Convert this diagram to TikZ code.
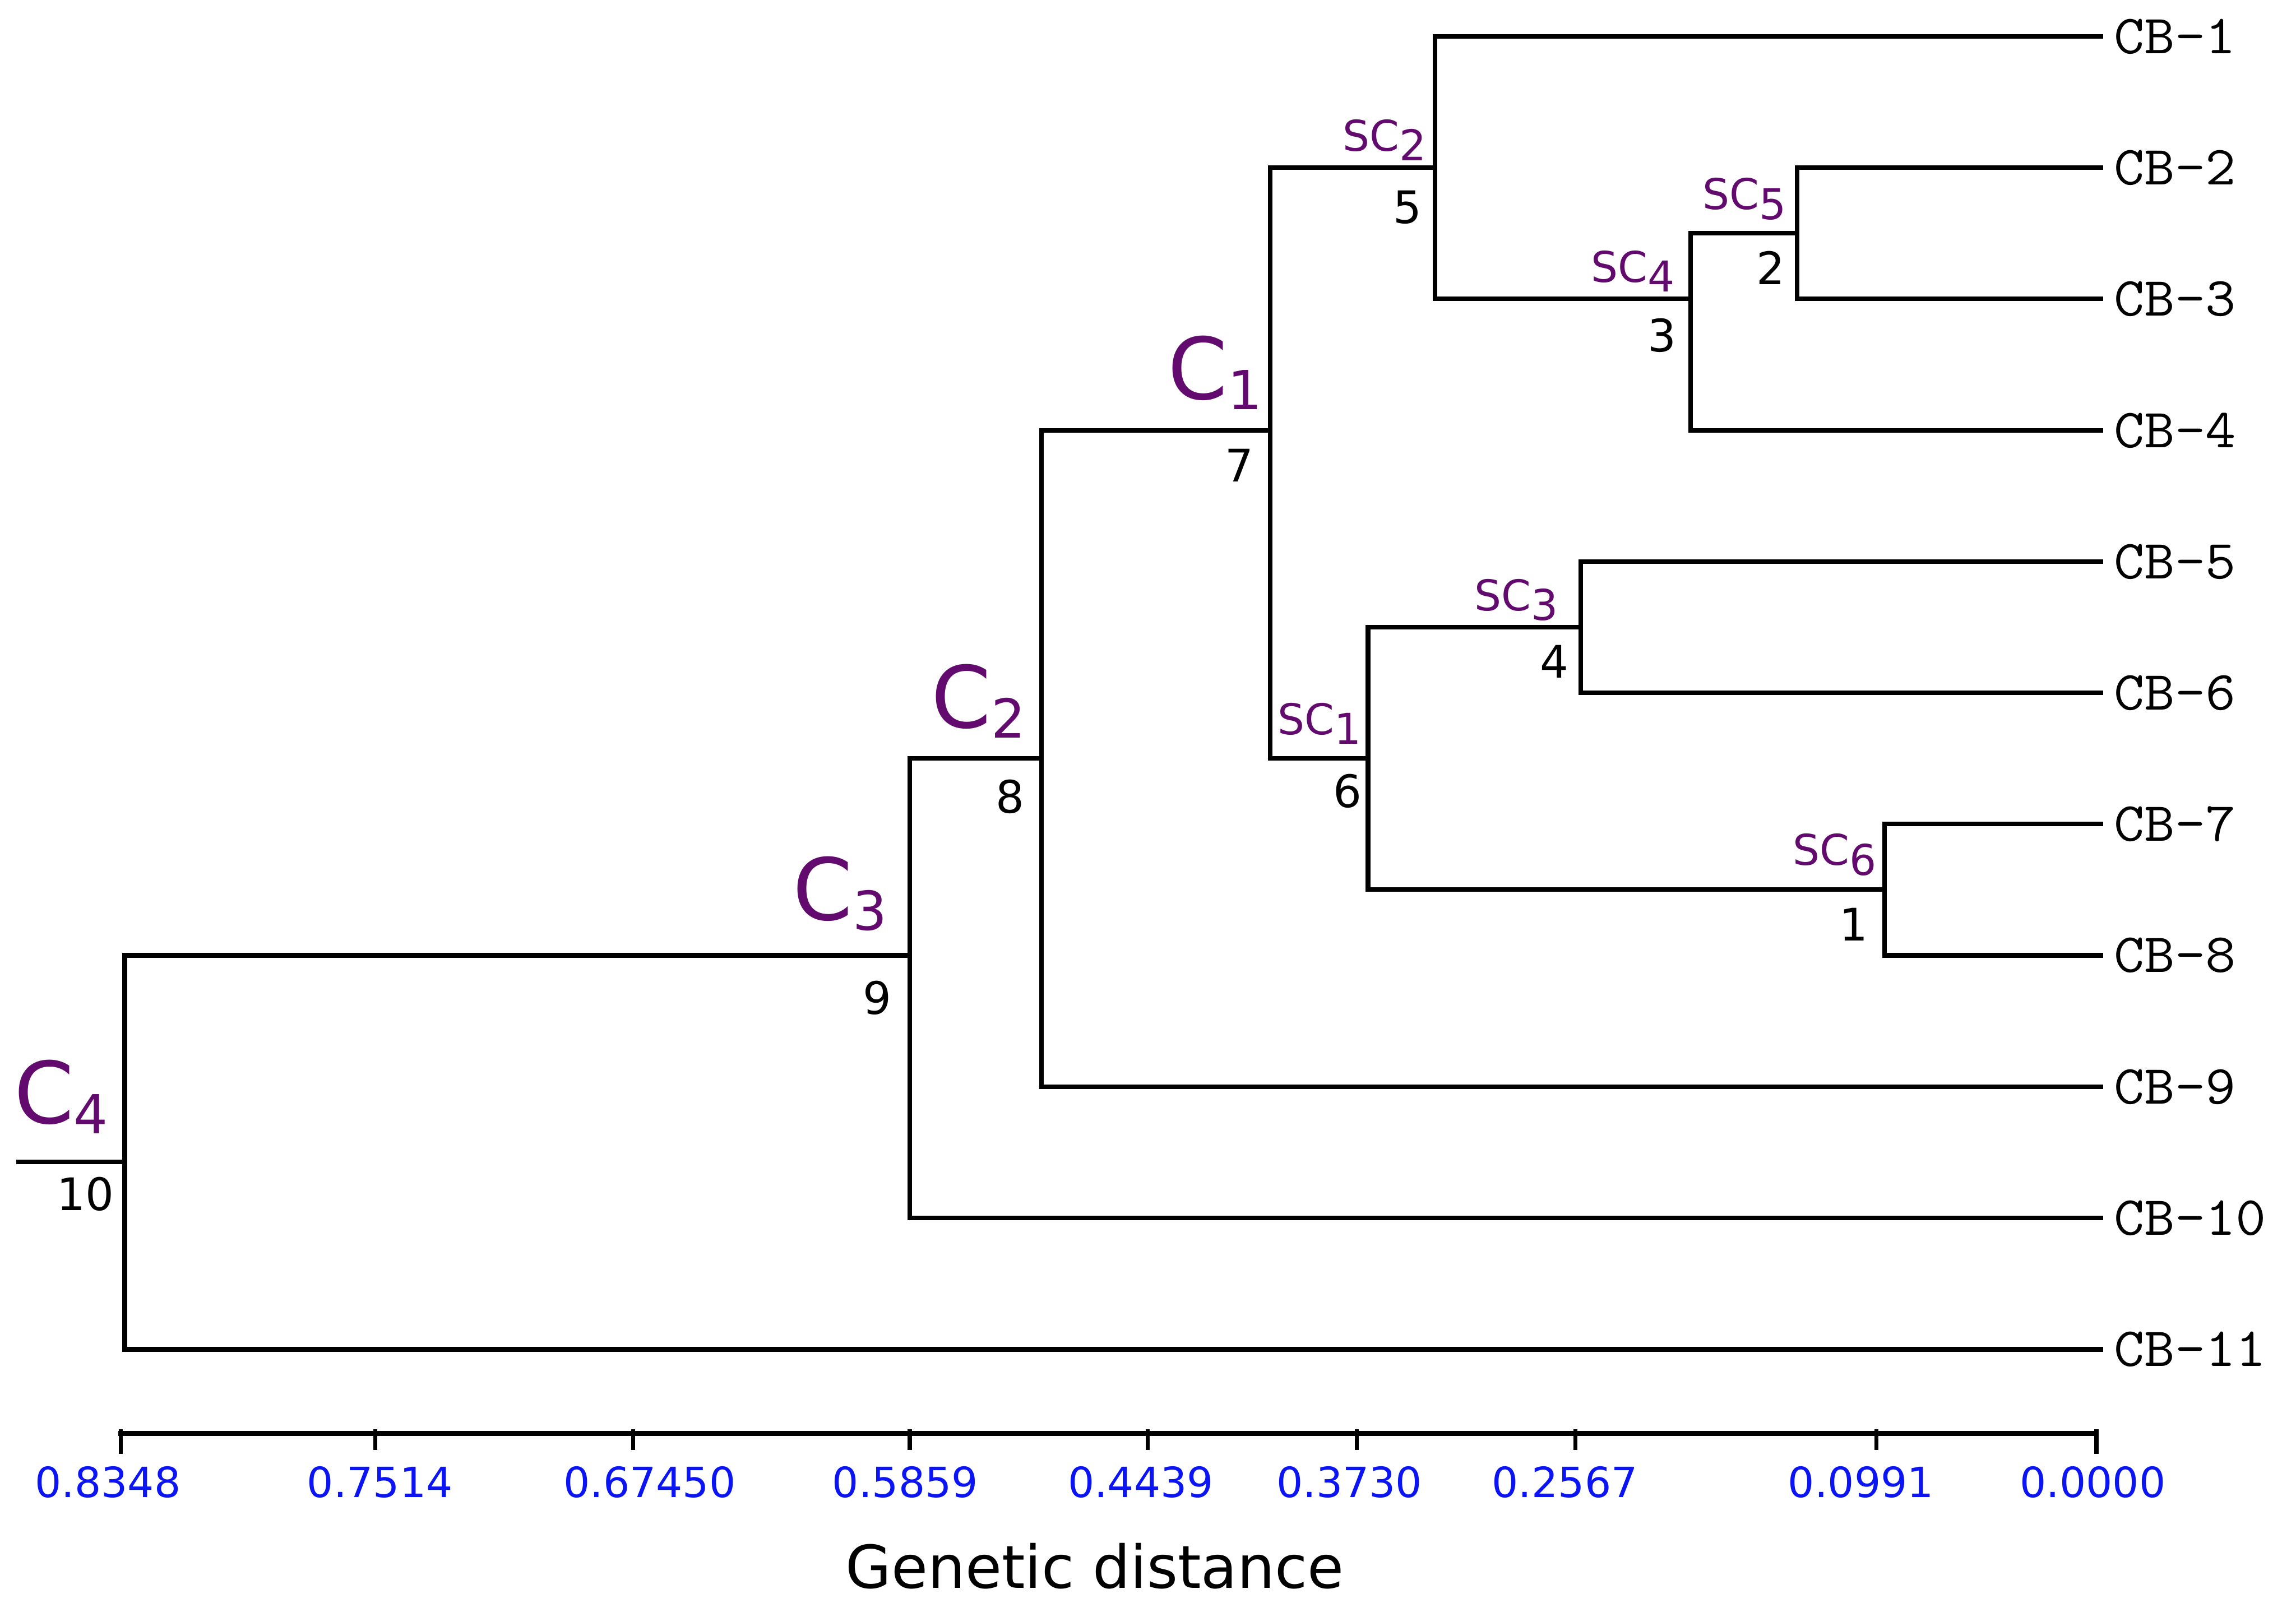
\documentclass[tikz,border=0pt]{standalone}
\usepackage{fontspec}
\setmainfont{DejaVu Sans}
\definecolor{clpurple}{RGB}{98,10,110}
\definecolor{axblue}{RGB}{10,20,245}
\newcommand{\clab}[1]{{\fontsize{53.5}{60}\selectfont C\raisebox{-0.22cm}{\fontsize{33.6}{36}\selectfont #1}}}
\newcommand{\sclab}[1]{{\fontsize{26.5}{30}\selectfont SC\raisebox{-0.22cm}{#1}}}
\newcommand{\cblab}[1]{\scalebox{1.07}[1]{\ttfamily\fontsize{34.5}{38}\selectfont CB-#1}}
\tikzset{
  branch/.style={line width=0.105cm, line join=miter},
  axisline/.style={line width=0.12cm},
  tickline/.style={line width=0.09cm},
  clusterlab/.style={anchor=base east, inner sep=0, text=clpurple},
  numlab/.style={anchor=base east, inner sep=0, font=\fontsize{28}{32}\selectfont},
  leaflab/.style={anchor=west, inner sep=0},
  axlab/.style={anchor=base, inner sep=0, text=axblue, font=\fontsize{26}{30}\selectfont}
}
\begin{document}
\begin{tikzpicture}
\useasboundingbox (0,0) rectangle (50.40,-35.19);
% leaf tips
\foreach \i/\y in {1/0.80,2/3.68,3/6.56,4/9.45,5/12.33,6/15.21,7/18.09,8/20.97,9/23.86,10/26.74,11/29.62}{
  \coordinate (L\i) at (46.17,-\y);
  \node[leaflab] (T\i) at (46.40,-\y) {\cblab{\i}};
}
% internal joints
\coordinate (n2) at (39.45,-5.12);   % SC5
\coordinate (n3) at (37.11,-6.56);   % SC4
\coordinate (n5) at (31.50,-3.68);   % SC2
\coordinate (n7) at (27.88,-9.45);   % C1
\coordinate (n4) at (34.70,-13.77);  % SC3
\coordinate (n1) at (41.37,-19.53);  % SC6
\coordinate (n6) at (30.03,-16.65);  % SC1
\coordinate (n8) at (22.86,-16.65);  % C2
\coordinate (n9) at (19.97,-20.97);  % C3
\coordinate (n10) at (2.74,-25.51);  % C4
\coordinate (stub) at (0.36,-25.51);
% branches
\draw[branch] (n2) |- (L2);
\draw[branch] (n2) |- (L3);
\draw[branch] (n3) |- (n2);
\draw[branch] (n3) |- (L4);
\draw[branch] (n5) |- (L1);
\draw[branch] (n5) |- (n3);
\draw[branch] (n4) |- (L5);
\draw[branch] (n4) |- (L6);
\draw[branch] (n1) |- (L7);
\draw[branch] (n1) |- (L8);
\draw[branch] (n6) |- (n4);
\draw[branch] (n6) |- (n1);
\draw[branch] (n7) |- (n5);
\draw[branch] (n7) |- (n6);
\draw[branch] (n8) |- (n7);
\draw[branch] (n8) |- (L9);
\draw[branch] (n9) |- (n8);
\draw[branch] (n9) |- (L10);
\draw[branch] (n10) |- (n9);
\draw[branch] (n10) |- (L11);
\draw[branch] (stub) -- (n10);
% cluster labels
\node[clusterlab] (lC4) at (2.38,-24.66) {\clab{4}};
\node[clusterlab] (lC3) at (19.48,-20.20) {\clab{3}};
\node[clusterlab] (lC2) at (22.52,-15.98) {\clab{2}};
\node[clusterlab] (lC1) at (27.71,-8.77) {\clab{1}};
\node[clusterlab] (lSC2) at (31.32,-3.31) {\sclab{2}};
\node[clusterlab] (lSC4) at (36.77,-6.19) {\sclab{4}};
\node[clusterlab] (lSC5) at (39.22,-4.60) {\sclab{5}};
\node[clusterlab] (lSC3) at (34.21,-13.40) {\sclab{3}};
\node[clusterlab] (lSC1) at (29.89,-16.12) {\sclab{1}};
\node[clusterlab] (lSC6) at (41.20,-18.99) {\sclab{6}};
% node numbers
\node[numlab] (k10) at (2.51,-26.57) {10};
\node[numlab] (k9) at (19.58,-22.26) {9};
\node[numlab] (k8) at (22.49,-17.85) {8};
\node[numlab] (k7) at (27.52,-10.58) {7};
\node[numlab] (k6) at (29.90,-17.72) {6};
\node[numlab] (k5) at (31.22,-4.90) {5};
\node[numlab] (k4) at (34.44,-14.88) {4};
\node[numlab] (k3) at (36.80,-7.72) {3};
\node[numlab] (k2) at (39.19,-6.25) {2};
\node[numlab] (k1) at (41.01,-20.65) {1};
% axis
\coordinate (axL) at (2.60,-31.47);
\coordinate (axR) at (46.06,-31.47);
\draw[axisline] (axL) -- (axR);
\foreach \n/\x/\len in {a/2.65/0.45,b/8.24/0.36,c/13.90/0.36,d/19.97/0.36,e/25.19/0.36,f/29.78/0.36,g/34.58/0.36,h/41.19/0.36,i/46.02/0.45}{
  \coordinate (tk\n) at (\x,-31.38);
  \draw[tickline] (tk\n) -- ++(0,-\len-0.09);
}
\node[axlab] (v1) at (2.37,-32.87) {0.8348};
\node[axlab] (v2) at (8.34,-32.87) {0.7514};
\node[axlab] (v3) at (14.26,-32.87) {0.67450};
\node[axlab] (v4) at (19.87,-32.87) {0.5859};
\node[axlab] (v5) at (25.04,-32.87) {0.4439};
\node[axlab] (v6) at (29.62,-32.87) {0.3730};
\node[axlab] (v7) at (34.35,-32.87) {0.2567};
\node[axlab] (v8) at (40.85,-32.87) {0.0991};
\node[axlab] (v9) at (45.94,-32.87) {0.0000};
\node[anchor=base, inner sep=0, font=\fontsize{37}{42}\selectfont] (xtitle) at (24.03,-34.86) {Genetic distance};
\end{tikzpicture}
\end{document}
